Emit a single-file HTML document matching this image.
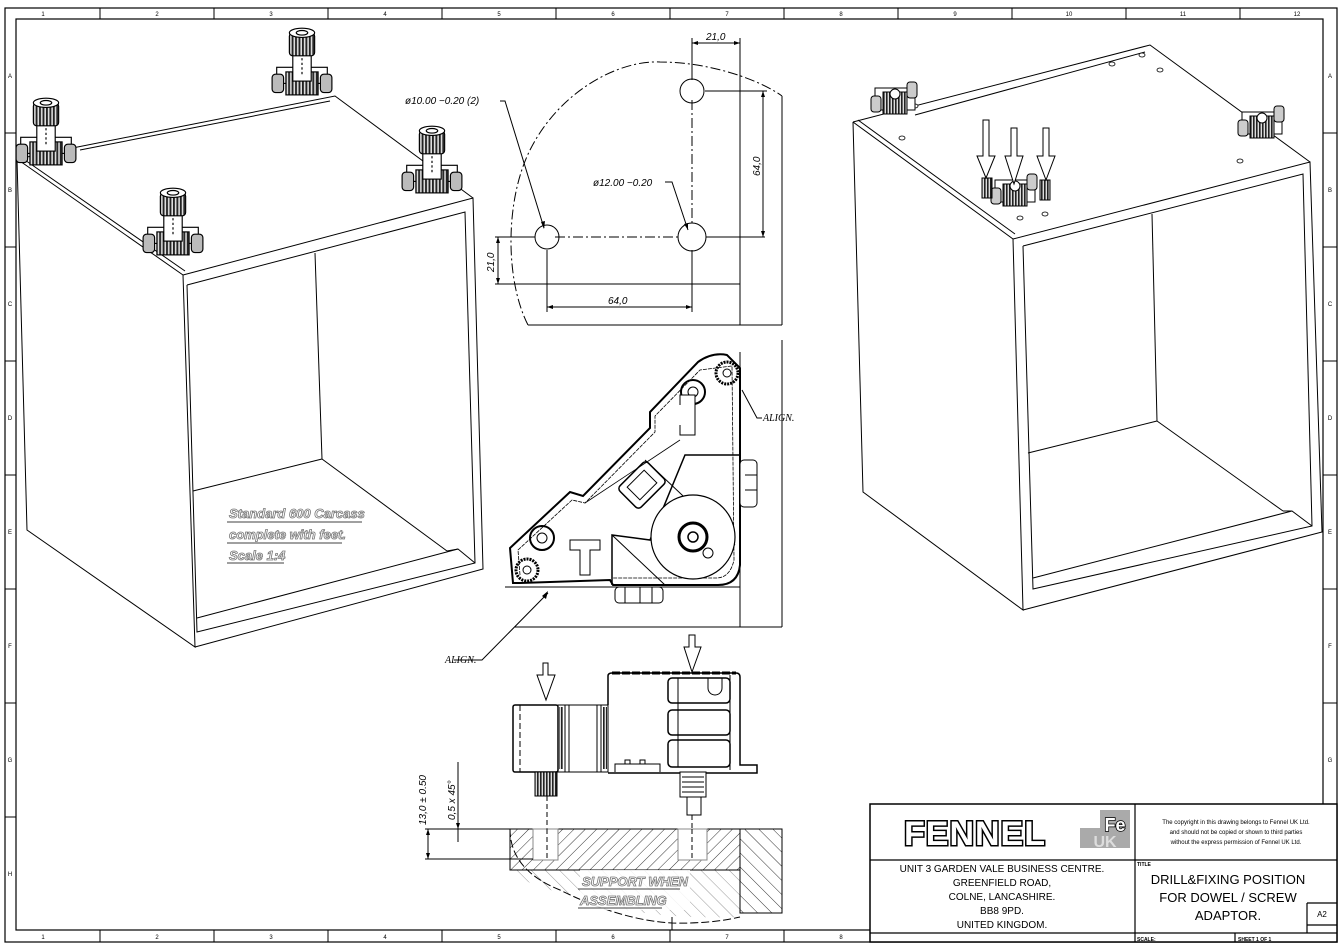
<!DOCTYPE html>
<html><head><meta charset="utf-8"><style>
html,body{margin:0;padding:0;background:#fff;}
svg{display:block;font-family:"Liberation Sans",sans-serif;}
.it{font-family:"Liberation Sans",sans-serif;font-style:italic;}
.ser{font-family:"Liberation Serif",serif;font-style:italic;}
</style></head><body>
<svg width="1342" height="949" viewBox="0 0 1342 949" xmlns="http://www.w3.org/2000/svg">
<defs>
<pattern id="h1" width="8" height="8" patternUnits="userSpaceOnUse" patternTransform="rotate(45)"><line x1="0" y1="0" x2="0" y2="8" stroke="#000" stroke-width="0.8"/></pattern>
<pattern id="h2" width="10" height="10" patternUnits="userSpaceOnUse" patternTransform="rotate(-45)"><line x1="0" y1="0" x2="0" y2="10" stroke="#000" stroke-width="0.8"/></pattern>
<pattern id="kn" width="3" height="4" patternUnits="userSpaceOnUse"><rect width="3" height="4" fill="#ddd"/><rect width="1.6" height="4" fill="#222"/></pattern>
<g id="foot">
 <rect x="-22" y="22" width="44" height="14" fill="#fff" stroke="#000"/>
 <rect x="-14" y="26" width="28" height="20" fill="url(#kn)" stroke="#000"/>
 <rect x="-26" y="28" width="10" height="16" rx="3" fill="#bbb" stroke="#000"/>
 <rect x="16" y="28" width="10" height="16" rx="3" fill="#bbb" stroke="#000"/>
 <rect x="-8" y="10" width="16" height="24" fill="#fff" stroke="#000"/>
 <line x1="0" y1="14" x2="0" y2="30" stroke="#000" stroke-dasharray="2 2"/>
 <rect x="-11" y="-8" width="22" height="20" rx="3" fill="url(#kn)" stroke="#000"/>
 <ellipse cx="0" cy="-8" rx="11" ry="4" fill="#fff" stroke="#000"/>
 <ellipse cx="0" cy="-8" rx="5" ry="2" fill="none" stroke="#000"/>
</g>
<g id="adp">
 <rect x="-20" y="0" width="40" height="22" fill="#fff" stroke="#000"/>
 <rect x="-12" y="4" width="24" height="22" fill="url(#kn)" stroke="#000"/>
 <rect x="-24" y="8" width="10" height="16" rx="3" fill="#ccc" stroke="#000"/>
 <rect x="12" y="-6" width="10" height="16" rx="3" fill="#ccc" stroke="#000"/>
 <circle cx="0" cy="6" r="5" fill="#fff" stroke="#000"/>
</g>
</defs>
<rect width="1342" height="949" fill="#fff"/>
<g fill="none" stroke="#000" stroke-width="1.2">
<rect x="5" y="8" width="1332" height="934"/>
<rect x="16" y="19" width="1307" height="911"/>
</g>
<g stroke="#000" stroke-width="1">
<line x1="100" y1="8" x2="100" y2="19"/><line x1="214" y1="8" x2="214" y2="19"/><line x1="328" y1="8" x2="328" y2="19"/><line x1="442" y1="8" x2="442" y2="19"/><line x1="556" y1="8" x2="556" y2="19"/><line x1="670" y1="8" x2="670" y2="19"/><line x1="784" y1="8" x2="784" y2="19"/><line x1="898" y1="8" x2="898" y2="19"/><line x1="1012" y1="8" x2="1012" y2="19"/><line x1="1126" y1="8" x2="1126" y2="19"/><line x1="1240" y1="8" x2="1240" y2="19"/>
<line x1="100" y1="930" x2="100" y2="942"/><line x1="214" y1="930" x2="214" y2="942"/><line x1="328" y1="930" x2="328" y2="942"/><line x1="442" y1="930" x2="442" y2="942"/><line x1="556" y1="930" x2="556" y2="942"/><line x1="670" y1="930" x2="670" y2="942"/><line x1="784" y1="930" x2="784" y2="942"/>
<line x1="5" y1="133" x2="16" y2="133"/><line x1="5" y1="247" x2="16" y2="247"/><line x1="5" y1="361" x2="16" y2="361"/><line x1="5" y1="475" x2="16" y2="475"/><line x1="5" y1="589" x2="16" y2="589"/><line x1="5" y1="703" x2="16" y2="703"/><line x1="5" y1="817" x2="16" y2="817"/>
<line x1="1323" y1="133" x2="1337" y2="133"/><line x1="1323" y1="247" x2="1337" y2="247"/><line x1="1323" y1="361" x2="1337" y2="361"/><line x1="1323" y1="475" x2="1337" y2="475"/><line x1="1323" y1="589" x2="1337" y2="589"/><line x1="1323" y1="703" x2="1337" y2="703"/>
</g>
<g font-size="6" text-anchor="middle" fill="#000">
<text x="43" y="16">1</text><text x="157" y="16">2</text><text x="271" y="16">3</text><text x="385" y="16">4</text><text x="499" y="16">5</text><text x="613" y="16">6</text><text x="727" y="16">7</text><text x="841" y="16">8</text><text x="955" y="16">9</text><text x="1069" y="16">10</text><text x="1183" y="16">11</text><text x="1297" y="16">12</text>
<text x="43" y="939">1</text><text x="157" y="939">2</text><text x="271" y="939">3</text><text x="385" y="939">4</text><text x="499" y="939">5</text><text x="613" y="939">6</text><text x="727" y="939">7</text><text x="841" y="939">8</text>
<text x="10" y="78">A</text><text x="10" y="192">B</text><text x="10" y="306">C</text><text x="10" y="420">D</text><text x="10" y="534">E</text><text x="10" y="648">F</text><text x="10" y="762">G</text><text x="10" y="876">H</text>
<text x="1330" y="78">A</text><text x="1330" y="192">B</text><text x="1330" y="306">C</text><text x="1330" y="420">D</text><text x="1330" y="534">E</text><text x="1330" y="648">F</text><text x="1330" y="762">G</text>
</g>

<g fill="none" stroke="#000" stroke-width="1">
<polyline points="17,159 27,530 195,647 183,275 17,159"/>
<line x1="22" y1="158" x2="185" y2="271"/>
<polyline points="17,159 335,96 473,198"/>
<line x1="80" y1="150" x2="330" y2="101"/>
<polyline points="183,275 473,198 483,569 195,647"/>
<polyline points="187,285 465,212 475,563 197,632 187,285"/>
<line x1="315" y1="253" x2="322" y2="459"/>
<line x1="322" y1="459" x2="193" y2="491"/>
<line x1="322" y1="459" x2="447" y2="551"/>
<polyline points="447,551 458,549 475,563"/>
<line x1="197" y1="618" x2="458" y2="549"/>
</g>
<use href="#foot" transform="translate(46,112) scale(1.15)"/>
<use href="#foot" transform="translate(302,42) scale(1.15)"/>
<use href="#foot" transform="translate(432,140) scale(1.15)"/>
<use href="#foot" transform="translate(173,202) scale(1.15)"/>
<g class="it" font-weight="bold" font-size="13" fill="#fff" stroke="#777" stroke-width="0.8">
<text x="229" y="518">Standard 600 Carcass</text>
<text x="229" y="539">complete with feet.</text>
<text x="229" y="560">Scale 1:4</text>
</g>
<g stroke="#000" stroke-width="0.8"><line x1="227" y1="522" x2="362" y2="522"/><line x1="227" y1="543" x2="342" y2="543"/><line x1="227" y1="563" x2="284" y2="563"/></g>

<g fill="none" stroke="#000" stroke-width="1">
<path d="M528,325 C505,280 505,200 530,150 C560,90 620,60 660,62 C710,62 760,80 782,96" stroke-dasharray="10 3 2 3"/>
<circle cx="547" cy="237" r="12"/><circle cx="692" cy="237" r="14"/><circle cx="692" cy="91" r="12"/>
<line x1="555" y1="237" x2="680" y2="237" stroke-dasharray="10 3 2 3"/>
<line x1="692" y1="100" x2="692" y2="225" stroke-dasharray="10 3 2 3"/>
<line x1="495" y1="237" x2="535" y2="237"/><line x1="706" y1="237" x2="765" y2="237"/>
<line x1="692" y1="38" x2="692" y2="80"/><line x1="692" y1="250" x2="692" y2="312"/>
<line x1="740" y1="38" x2="740" y2="325"/>
<line x1="692" y1="43" x2="740" y2="43"/>
<line x1="705" y1="91" x2="767" y2="91"/>
<line x1="763" y1="91" x2="763" y2="237"/>
<line x1="782" y1="96" x2="782" y2="325"/>
<line x1="528" y1="325" x2="782" y2="325"/>
<line x1="495" y1="284" x2="740" y2="284"/>
<line x1="498" y1="237" x2="498" y2="284"/>
<line x1="547" y1="250" x2="547" y2="312"/>
<line x1="547" y1="307" x2="692" y2="307"/>
<polyline points="500,101 505,101 544,228"/>
<polyline points="665,182 672,182 688,230"/>
</g>
<g fill="#000">
<path d="M692,43 l6,-2 v4z M740,43 l-6,-2 v4z M763,91 l-2,6 h4z M763,237 l-2,-6 h4z M498,237 l-2,6 h4z M498,284 l-2,-6 h4z M547,307 l6,-2 v4z M692,307 l-6,-2 v4z M544,229 l-3,-7 l4,-1z M688,230 l-4,-6 l4,-1z"/>
</g>
<g class="it" font-size="10" fill="#000">
<text x="706" y="40">21,0</text>
<text x="608" y="304">64,0</text>
<text x="405" y="104">ø10.00  −0.20  (2)</text>
<text x="593" y="186">ø12.00  −0.20</text>
<text transform="translate(760,176) rotate(-90)">64,0</text>
<text transform="translate(494,272) rotate(-90)">21,0</text>
</g>

<g fill="none" stroke="#000" stroke-width="1">
<line x1="740" y1="352" x2="740" y2="627"/><line x1="782" y1="340" x2="782" y2="627"/>
<line x1="505" y1="587" x2="740" y2="587"/><line x1="515" y1="627" x2="782" y2="627"/>
<path d="M513,583 L510,548 L570,492 L583,496 L650,428 L650,412 L698,362 Q712,352 727,355 L740,368 L740,565 Q738,585 718,585 L613,585 L610,580 L520,583 Z" stroke-width="2" fill="#fff"/>
<path d="M520,575 L518,550 L572,500 L585,503 L655,432 L655,416 L700,370 L732,366 L734,560 Q730,578 716,578 L612,578" stroke-width="0.8" stroke-dasharray="4 1"/>
<line x1="585" y1="503" x2="680" y2="440" stroke-width="0.8"/>
<polyline points="612,585 612,535 650,540 685,455 740,455" stroke-width="1.5"/>
<line x1="612" y1="535" x2="665" y2="585" stroke-width="1"/>
<line x1="645" y1="460" x2="735" y2="545"/>
<circle cx="693" cy="537" r="42" fill="#fff" stroke-width="1.2"/>
<circle cx="693" cy="537" r="14" stroke-width="3"/><circle cx="693" cy="537" r="5" stroke-width="1.5"/>
<circle cx="708" cy="553" r="5"/>
<circle cx="542" cy="538" r="12" stroke-width="2"/><circle cx="542" cy="538" r="5"/>
<circle cx="527" cy="570" r="11" stroke-width="3" stroke-dasharray="2 1"/><circle cx="527" cy="570" r="4"/>
<circle cx="693" cy="392" r="12" stroke-width="2"/><circle cx="693" cy="392" r="5"/>
<circle cx="727" cy="373" r="11" stroke-width="3" stroke-dasharray="2 1"/><circle cx="727" cy="373" r="4"/>
<rect x="622" y="470" width="40" height="30" rx="4" transform="rotate(-45 642 485)" stroke-width="1.5"/>
<rect x="630" y="476" width="24" height="18" transform="rotate(-45 642 485)"/>
<path d="M570,540 h30 v10 h-10 v25 h-10 v-25 h-10z" fill="#fff"/>
<path d="M680,405 v-10 h15 v40 h-15 v-10" fill="#fff"/>
<rect x="740" y="460" width="17" height="47" rx="4" fill="#fff"/>
<line x1="745" y1="475" x2="757" y2="475"/><line x1="745" y1="490" x2="757" y2="490"/>
<rect x="615" y="587" width="48" height="16" rx="4" fill="#fff"/>
<line x1="625" y1="587" x2="625" y2="603"/><line x1="640" y1="587" x2="640" y2="603"/><line x1="652" y1="587" x2="652" y2="603"/>
<polyline points="742,390 757,418 762,418"/>
<polyline points="454,660 482,660 548,593"/>
</g>
<path d="M548,591 l-2,8 l-4,-3z" fill="#000"/>
<g class="ser" font-size="10" fill="#000"><text x="763" y="421">ALIGN.</text><text x="445" y="663">ALIGN.</text></g>

<g fill="none" stroke="#000" stroke-width="1">
<polygon points="543,635 548,635 548,647 555,647 546,672 537,647 543,647" transform="translate(0,28)"/>
<polygon points="689,635 695,635 695,647 701,647 692,672 684,647 689,647"/>
<rect x="513" y="705" width="45" height="67" rx="2" stroke-width="1.5"/>
<line x1="520" y1="705" x2="520" y2="772" stroke-dasharray="6 3"/>
<rect x="558" y="705" width="50" height="67"/>
<rect x="559" y="707" width="4" height="62" fill="url(#kn)" stroke="none"/>
<rect x="603" y="707" width="4" height="62" fill="url(#kn)" stroke="none"/>
<line x1="565" y1="705" x2="565" y2="772"/><line x1="569" y1="705" x2="569" y2="772"/>
<line x1="597" y1="705" x2="597" y2="772"/><line x1="601" y1="705" x2="601" y2="772"/>
<path d="M608,705 V676 Q608,673 612,673 H736 Q740,673 740,677 V765 H757 V773 H608" stroke-width="1.5"/>
<line x1="612" y1="673" x2="736" y2="673" stroke-width="3" stroke-dasharray="8 2"/>
<rect x="668" y="678" width="62" height="25" rx="4" stroke-width="1.5"/>
<rect x="668" y="710" width="62" height="25" rx="4" stroke-width="1.5"/>
<rect x="668" y="740" width="62" height="27" rx="4" stroke-width="1.5"/>
<line x1="678" y1="678" x2="678" y2="767"/><line x1="730" y1="675" x2="730" y2="770"/>
<path d="M708,678 v10 a7,7 0 0 0 14,0 v-10"/>
<path d="M615,772 v-8 h45 v8 M625,764 v-4 h5 v4 M640,764 v-4 h5 v4"/>
<rect x="535" y="772" width="22" height="24" fill="url(#kn)"/>
<line x1="547" y1="796" x2="547" y2="860" stroke-dasharray="5 3"/>
<rect x="680" y="772" width="26" height="25" fill="#fff"/>
<path d="M682,777 h22 M682,782 h22 M682,787 h22 M682,792 h22"/>
<rect x="687" y="797" width="14" height="18"/>
<line x1="692" y1="815" x2="692" y2="860" stroke-dasharray="5 3"/>
</g>
<path d="M510,829 H740 V870 H510 Z" fill="url(#h1)" stroke="#000"/>
<path d="M740,829 H782 V913 H740 Z" fill="url(#h2)" stroke="#000"/>
<path d="M512,870 Q530,890 580,895 Q630,920 740,917 V870 Z" fill="url(#h2)" stroke="none" opacity="0.5"/>
<rect x="533" y="829" width="25" height="31" fill="#fff" stroke="#888"/>
<rect x="678" y="829" width="29" height="31" fill="#fff" stroke="#888"/>
<line x1="547" y1="829" x2="547" y2="860" stroke="#000" stroke-dasharray="5 3"/>
<line x1="692" y1="829" x2="692" y2="860" stroke="#000" stroke-dasharray="5 3"/>
<path d="M510,829 Q510,870 560,890 Q620,920 672,923 Q710,924 740,917" fill="none" stroke="#000" stroke-dasharray="8 3"/>
<line x1="672" y1="917" x2="672" y2="930" stroke="#000"/>
<g stroke="#000" stroke-width="1" fill="none">
<line x1="425" y1="829" x2="510" y2="829"/>
<line x1="425" y1="859" x2="533" y2="859"/>
<line x1="428" y1="829" x2="428" y2="859"/>
<line x1="458" y1="762" x2="458" y2="842"/>
</g>
<path d="M428,829 l-2,6 h4z M428,859 l-2,-6 h4z M458,829 l-2,-6 h4z" fill="#000"/>
<g class="it" font-size="10" fill="#000">
<text transform="translate(426,825) rotate(-90)">13,0  ±  0.50</text>
<text transform="translate(455,820) rotate(-90)">0,5  x  45°</text>
</g>
<rect x="580" y="870" width="110" height="40" fill="#fff" opacity="0.85"/>
<g class="it" font-weight="bold" font-size="13" fill="#fff" stroke="#777" stroke-width="0.8">
<text x="582" y="886">SUPPORT WHEN</text>
<text x="580" y="905">ASSEMBLING</text>
</g>
<g stroke="#000" stroke-width="0.8"><line x1="578" y1="889" x2="680" y2="889"/><line x1="578" y1="908" x2="662" y2="908"/></g>

<g fill="none" stroke="#000" stroke-width="1">
<polyline points="853,122 863,492 1023,610 1013,239 853,122"/>
<line x1="858" y1="120" x2="1015" y2="234"/>
<polyline points="853,122 1150,45 1310,162"/>
<line x1="915" y1="115" x2="1145" y2="52"/>
<polyline points="1013,239 1310,162 1322,532 1023,610"/>
<polyline points="1023,246 1303,174 1312,526 1033,589 1023,246"/>
<line x1="1152" y1="214" x2="1157" y2="421"/>
<line x1="1157" y1="421" x2="1028" y2="453"/>
<line x1="1157" y1="421" x2="1283" y2="511"/>
<polyline points="1283,511 1292,511 1312,526"/>
<line x1="1033" y1="578" x2="1292" y2="511"/>
</g>
<g fill="#fff" stroke="#000" stroke-width="0.8">
<ellipse cx="1112" cy="64" rx="3" ry="2"/><ellipse cx="1142" cy="55" rx="3" ry="2"/><ellipse cx="1160" cy="70" rx="3" ry="2"/>
<ellipse cx="915" cy="106" rx="3" ry="2"/><ellipse cx="902" cy="138" rx="3" ry="2"/><ellipse cx="1240" cy="161" rx="3" ry="2"/><ellipse cx="1045" cy="214" rx="3" ry="2"/><ellipse cx="1020" cy="218" rx="3" ry="2"/>
</g>
<use href="#adp" x="895" y="88"/>
<use href="#adp" x="1262" y="112"/>
<use href="#adp" x="1015" y="180"/>
<rect x="982" y="178" width="10" height="20" fill="url(#kn)" stroke="#000"/>
<rect x="1040" y="180" width="10" height="20" fill="url(#kn)" stroke="#000"/>
<g fill="#fff" stroke="#000" stroke-width="1">
<polygon points="983,120 989,120 989,156 995,156 986,178 977,156 983,156"/>
<polygon points="1011,128 1017,128 1017,156 1023,156 1014,184 1005,156 1011,156"/>
<polygon points="1043,128 1049,128 1049,156 1055,156 1046,180 1037,156 1043,156"/>
</g>

<rect x="870" y="804" width="467" height="138" fill="#fff" stroke="#000" stroke-width="1.5"/>
<g stroke="#000" stroke-width="1.2">
<line x1="1135" y1="804" x2="1135" y2="942"/>
<line x1="870" y1="860" x2="1337" y2="860"/>
<line x1="870" y1="933" x2="1337" y2="933"/>
<line x1="1307" y1="903" x2="1307" y2="933"/>
<line x1="1307" y1="903" x2="1337" y2="903"/>
<line x1="1307" y1="925" x2="1337" y2="925"/>
<line x1="1235" y1="933" x2="1235" y2="942"/>
</g>
<text x="975" y="845" font-size="34" font-weight="bold" text-anchor="middle" fill="#fff" stroke="#000" stroke-width="3" paint-order="stroke" letter-spacing="1">FENNEL</text>
<rect x="1080" y="810" width="50" height="38" fill="#aaa"/>
<rect x="1080" y="810" width="20" height="18" fill="#fff"/>
<text x="1115" y="831" font-size="18" font-weight="bold" text-anchor="middle" fill="#fff" stroke="#000" stroke-width="1.5" paint-order="stroke">Fe</text>
<text x="1105" y="847" font-size="16" font-weight="bold" text-anchor="middle" fill="#ddd">UK</text>
<g font-size="6" text-anchor="middle" fill="#000">
<text x="1236" y="824">The copyright in this drawing belongs to Fennel UK Ltd.</text>
<text x="1236" y="834">and should not be copied or shown to third parties</text>
<text x="1236" y="844">without the express permission of Fennel UK Ltd.</text>
</g>
<g font-size="10" text-anchor="middle" fill="#000">
<text x="1002" y="872">UNIT 3 GARDEN VALE BUSINESS CENTRE.</text>
<text x="1002" y="886">GREENFIELD ROAD,</text>
<text x="1002" y="900">COLNE, LANCASHIRE.</text>
<text x="1002" y="914">BB8 9PD.</text>
<text x="1002" y="928">UNITED KINGDOM.</text>
</g>
<g font-size="13" text-anchor="middle" fill="#000">
<text x="1228" y="884">DRILL&amp;FIXING POSITION</text>
<text x="1228" y="902">FOR DOWEL / SCREW</text>
<text x="1228" y="920">ADAPTOR.</text>
</g>
<text x="1322" y="917" font-size="8" text-anchor="middle">A2</text>
<text x="1137" y="866" font-size="5" font-weight="bold">TITLE</text>
<text x="1137" y="941" font-size="5" font-weight="bold">SCALE:</text>
<text x="1238" y="941" font-size="5" font-weight="bold">SHEET 1 OF 1</text>
</svg>
</body></html>
